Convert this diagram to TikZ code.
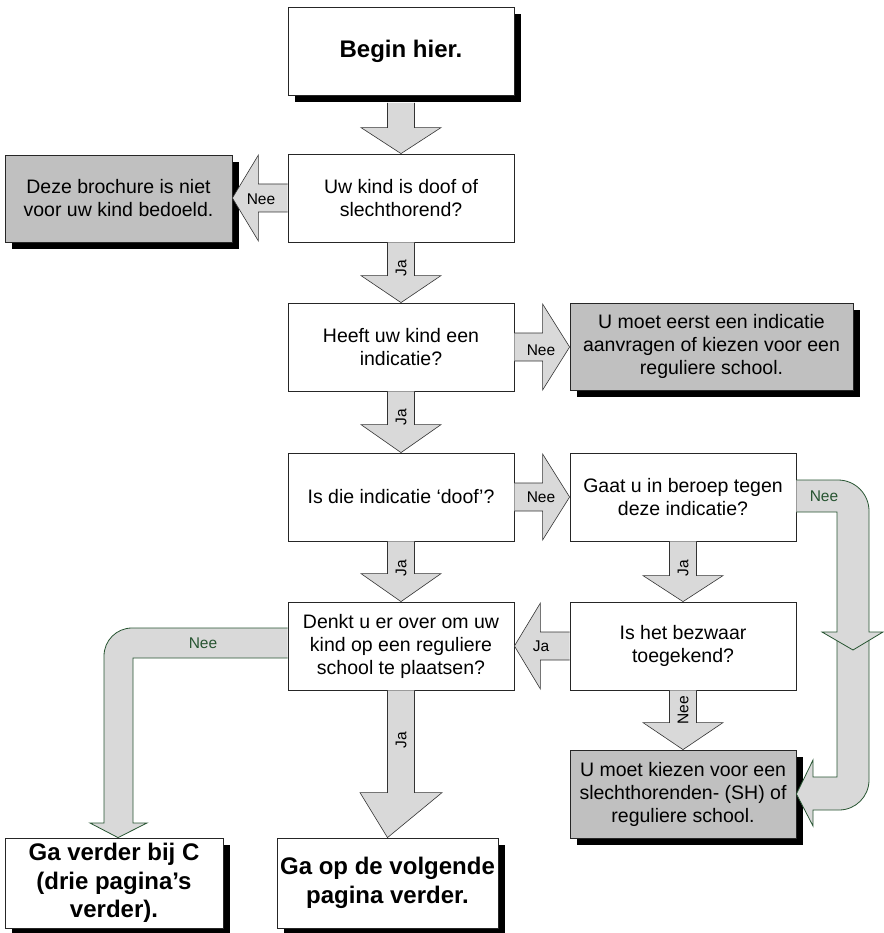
\documentclass[tikz,border=0pt]{standalone}
\usepackage{fontspec}
\setmainfont{Liberation Sans}
\usetikzlibrary{calc,shadows}
\definecolor{arrowgray}{RGB}{217,217,217}
\definecolor{boxgray}{RGB}{192,192,192}
\definecolor{nee}{RGB}{40,85,50}
\tikzset{
 qbox/.style={draw=black!85, line width=0.8pt, fill=white, minimum width=226pt, minimum height=88pt, align=center, inner sep=2pt, font=\fontsize{19.5}{23}\selectfont},
 graybox/.style={qbox, fill=boxgray},
 boldbox/.style={qbox, font=\bfseries\fontsize{24}{28.5}\selectfont},
 shadowed/.style={general shadow={fill=black, shadow xshift=7pt, shadow yshift=-7pt}},
 barrow/.style={draw=black!80, line width=0.6pt, fill=arrowgray, line join=miter},
 carrow/.style={draw=nee, line width=0.8pt, fill=arrowgray, line join=miter},
 lbl/.style={font=\fontsize{15.5}{17}\selectfont, inner sep=0pt}
}
\newcommand{\DownArr}[4]{%
 \draw[barrow] ($(#1.south)+(-13.5,0)$) -- ($(#1.south |- #2.north)+(-13.5,-#3)$) -- ($(#1.south |- #2.north)+(-#4,-#3)$) -- (#2.north) -- ($(#1.south |- #2.north)+(#4,-#3)$) -- ($(#1.south |- #2.north)+(13.5,-#3)$) -- ($(#1.south)+(13.5,0)$);}
\newcommand{\RightArr}[4]{%
 \draw[barrow] ($(#1.east)+(0,-14)$) -- ($(#2.west |- #1.east)+(-#3,-14)$) -- ($(#2.west |- #1.east)+(-#3,-#4)$) -- (#2.west |- #1.east) -- ($(#2.west |- #1.east)+(-#3,#4)$) -- ($(#2.west |- #1.east)+(-#3,14)$) -- ($(#1.east)+(0,14)$);}
\newcommand{\LeftArr}[4]{%
 \draw[barrow] ($(#1.west)+(0,-14)$) -- ($(#2.east |- #1.west)+(#3,-14)$) -- ($(#2.east |- #1.west)+(#3,-#4)$) -- (#2.east |- #1.west) -- ($(#2.east |- #1.west)+(#3,#4)$) -- ($(#2.east |- #1.west)+(#3,14)$) -- ($(#1.west)+(0,14)$);}
\begin{document}
\begin{tikzpicture}[x=1pt,y=-1pt]
\useasboundingbox (0,0) rectangle (883,933);

% nodes
\node[boldbox, shadowed] (begin) at (401,51) {Begin hier.};
\node[qbox] (q1) at (401,198) {Uw kind is doof of\\slechthorend?};
\node[graybox, shadowed, minimum width=227pt, minimum height=87pt] (deze) at (118.5,198.5) {Deze brochure is niet\\voor uw kind bedoeld.};
\node[qbox] (q2) at (401,347) {Heeft uw kind een\\indicatie?};
\node[graybox, shadowed, minimum width=283pt, minimum height=87pt] (eerst) at (711.5,346.5) {U moet eerst een indicatie\\aanvragen of kiezen voor een\\reguliere school.};
\node[qbox] (q3) at (401,497) {Is die indicatie ‘doof’?};
\node[qbox] (beroep) at (683,497) {Gaat u in beroep tegen\\deze indicatie?};
\node[qbox] (denkt) at (401,646) {Denkt u er over om uw\\kind op een reguliere\\school te plaatsen?};
\node[qbox] (bezwaar) at (683,646) {Is het bezwaar\\toegekend?};
\node[graybox, shadowed] (kiezen) at (683,794) {U moet kiezen voor een\\slechthorenden- (SH) of\\reguliere school.};
\node[boldbox, shadowed, minimum width=218pt, minimum height=90pt] (gaC) at (114,883) {Ga verder bij C\\(drie pagina’s\\verder).};
\node[boldbox, shadowed, minimum width=221pt, minimum height=90pt] (gaop) at (387.5,883) {Ga op de volgende\\pagina verder.};

% straight block arrows
\DownArr{q1}{q2}{27}{40}
\DownArr{q2}{q3}{28}{40}
\DownArr{q3}{denkt}{28}{40}
\DownArr{beroep}{bezwaar}{26}{40}
\DownArr{bezwaar}{kiezen}{27}{40}
\DownArr{denkt}{gaop}{45}{41}
\LeftArr{q1}{deze}{26}{43}
\RightArr{q2}{eerst}{27}{43}
\RightArr{q3}{beroep}{27}{43}
\LeftArr{bezwaar}{denkt}{26}{43}

% begin arrow (starts below begin shadow)
\draw[barrow] ($(begin.south)+(-13.5,7.4)$) -- ($(begin.south |- q1.north)+(-13.5,-26)$) -- ($(begin.south |- q1.north)+(-40,-26)$) -- (q1.north) -- ($(begin.south |- q1.north)+(40,-26)$) -- ($(begin.south |- q1.north)+(13.5,-26)$) -- ($(begin.south)+(13.5,7.4)$);

% left curved arrow: denkt -> gaC
\draw[carrow] ($(denkt.west)+(0,-18)$) -- (132,628) .. controls (116.5,628) and (104,640.5) .. (104,656) -- (104,823) -- (90,823) -- ($(gaC.north)+(4,0)$) -- (147,823) -- (133,823) -- (133,658) -- ($(denkt.west)+(0,12)$);

% right curved arrow: beroep -> kiezen (two parts)
\draw[carrow] (837,636) -- (869,636) -- (869,780) .. controls (869,796.6) and (855.6,810) .. (839,810) -- (813,810) -- (813,826) -- (kiezen.east) -- (813,760) -- (813,777) -- (837,777) -- cycle;
\draw[carrow] ($(beroep.east)+(0,-17)$) -- (838,480) .. controls (855.1,480) and (869,493.9) .. (869,511) -- (869,632) -- (883,632) -- (853,650) -- (822,632) -- (837,632) -- (837,512) -- ($(beroep.east)+(0,15)$);

% labels
\node[lbl] (l1) at (261,199) {Nee};
\node[lbl,rotate=90] (l2) at (401,268) {Ja};
\node[lbl] (l3) at (541,350) {Nee};
\node[lbl,rotate=90] (l4) at (401,417) {Ja};
\node[lbl] (l5) at (541,497) {Nee};
\node[lbl,text=nee] (l6) at (824,496) {Nee};
\node[lbl,rotate=90] (l7) at (401,568) {Ja};
\node[lbl,rotate=90] (l8) at (683,568) {Ja};
\node[lbl] (l9) at (541,646) {Ja};
\node[lbl,text=nee] (l10) at (203,643) {Nee};
\node[lbl,rotate=90] (l11) at (683,710) {Nee};
\node[lbl,rotate=90] (l12) at (401,740) {Ja};
\end{tikzpicture}
\end{document}
